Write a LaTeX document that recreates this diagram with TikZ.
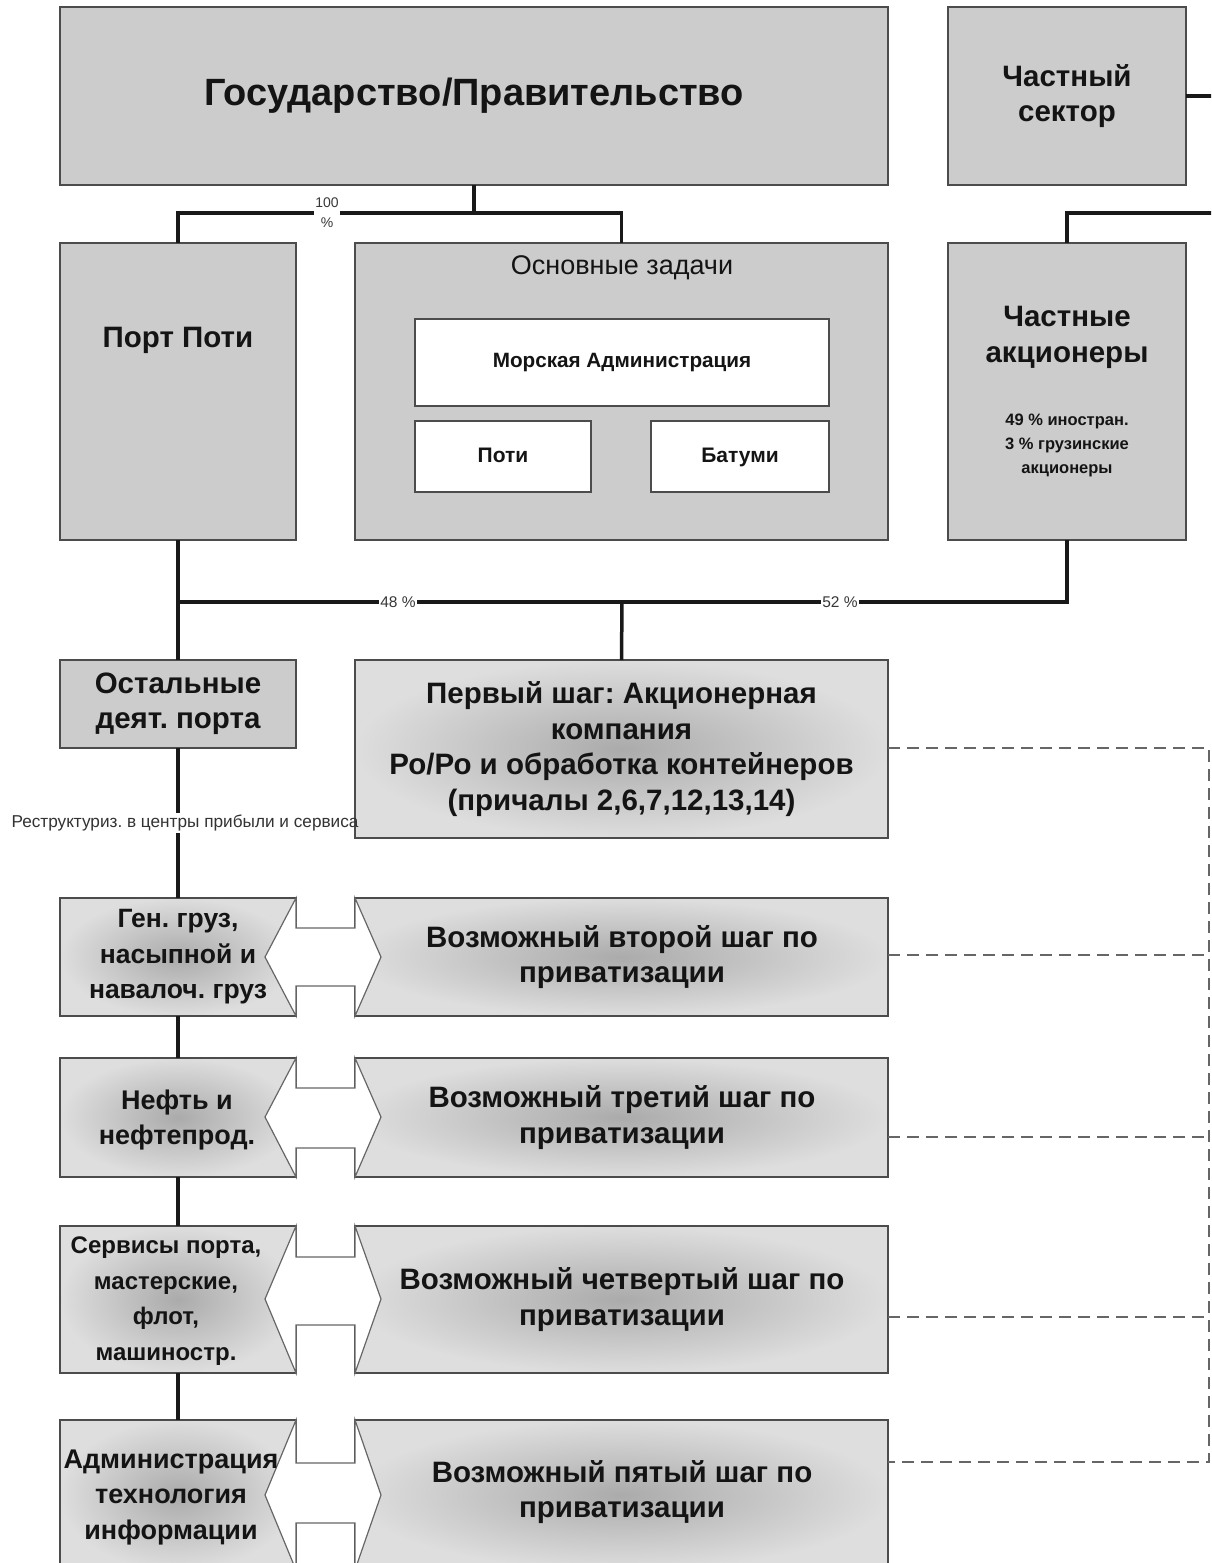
\documentclass[tikz,border=0pt]{standalone}
\usepackage{fontspec}
\setmainfont{Liberation Sans}
\usetikzlibrary{calc}
\frenchspacing
\newcommand\dblarw[5]{\draw[dbl] (296,#1) -- (265,#5) -- (296,#2) -- (296,#4) -- (355,#4) -- (355,#2) -- (381,#5) -- (355,#1) -- (355,#3) -- (296,#3) -- cycle;}
\begin{document}
\frenchspacing
\begin{tikzpicture}[x=1pt,y=-1pt,
 box/.style={draw=black!70, line width=1.3pt, fill=black!20, inner sep=0pt, outer sep=0pt},
 sbox/.style={box, shading=radial, inner color=black!33, outer color=black!13},
 wbox/.style={draw=black!70, line width=1.3pt, fill=white, inner sep=0pt, outer sep=0pt, font=\bfseries\fontsize{20.7}{24}\selectfont, text=black!92},
 big/.style={font=\bfseries\fontsize{29.5}{35.5}\selectfont, align=center, text=black!92, inner sep=0pt},
 mid/.style={font=\bfseries\fontsize{27}{35.5}\selectfont, align=center, text=black!92, inner sep=0pt},
 conn/.style={line width=3.5pt, black!90},
 dconn/.style={line width=1.3pt, black!60, dash pattern=on 12pt off 7pt},
 lab/.style={fill=white, inner sep=1.5pt, font=\fontsize{15.5}{20}\selectfont, text=black!78, align=center},
 dbl/.style={fill=white, draw=black!60, line width=1.2pt, line join=miter}
]
\useasboundingbox (0,0) rectangle (1211,1563);
\clip (0,0) rectangle (1211,1563);
\fill[white] (0,0) rectangle (1211,1563);

% top row
\node[box, minimum width=828pt, minimum height=178pt, font=\bfseries\fontsize{38}{44}\selectfont, text=black!92] (gov) at (474,96) {Государство/Правительство};
\node[box, minimum width=238pt, minimum height=178pt, big] (priv) at (1067,96) {Частный\\сектор};

% second row
\node[box, minimum width=236pt, minimum height=297pt] (poti) at (178,391.5) {};
\node[big] (potit) at (178,340) {Порт Поти};
\node[box, minimum width=533pt, minimum height=297pt] (osn) at (621.5,391.5) {};
\node[font=\fontsize{27}{30}\selectfont, text=black!92] (osnt) at (622,268) {Основные задачи};
\node[wbox, minimum width=414pt, minimum height=87pt] (mor) at (622,362.5) {Морская Администрация};
\node[wbox, minimum width=176pt, minimum height=71pt, font=\bfseries\fontsize{21}{24}\selectfont, text height=15pt, text depth=4pt] (ptt) at (503,456.5) {Поти};
\node[wbox, minimum width=178pt, minimum height=71pt, font=\bfseries\fontsize{21}{24}\selectfont, text height=15pt, text depth=4pt] (bat) at (740,456.5) {Батуми};
\node[box, minimum width=238pt, minimum height=297pt] (sh) at (1067,391.5) {};
\node[big] (sht) at (1067,337.5) {Частные\\акционеры};
\node[font=\bfseries\fontsize{16.5}{24}\selectfont, align=center, text=black!92] (shs) at (1067,445) {49 \% иностран.\\3 \% грузинские\\акционеры};

% third row
\node[box, minimum width=236pt, minimum height=88pt, big] (ost) at (178,704) {Остальные\\деят. порта};
\node[sbox, minimum width=533pt, minimum height=178pt, big] (st1) at (621.5,749) {Первый шаг: Акционерная\\компания\\Ро/Ро и обработка контейнеров\\(причалы 2,6,7,12,13,14)};

% step rows (boxes)
\node[sbox, minimum width=236pt, minimum height=118pt] (l2) at (178,957) {};
\node[sbox, minimum width=533pt, minimum height=118pt] (r2) at (621.5,957) {};
\node[sbox, minimum width=236pt, minimum height=119pt] (l3) at (178,1117.5) {};
\node[sbox, minimum width=533pt, minimum height=119pt] (r3) at (621.5,1117.5) {};
\node[sbox, minimum width=236pt, minimum height=147pt] (l4) at (178,1299.5) {};
\node[sbox, minimum width=533pt, minimum height=147pt] (r4) at (621.5,1299.5) {};
\node[sbox, minimum width=236pt, minimum height=150pt] (l5) at (178,1495) {};
\node[sbox, minimum width=533pt, minimum height=150pt] (r5) at (621.5,1495) {};

% double arrows between the columns
\dblarw{898}{1016}{928}{986}{957}
\dblarw{1058}{1177}{1088}{1148}{1117}
\dblarw{1226}{1373}{1257}{1325}{1299}
\dblarw{1420}{1570}{1463}{1523}{1495}

% texts of step rows
\node[mid, font=\bfseries\fontsize{26.5}{35.5}\selectfont] (l2t) at (178,957) {Ген. груз,\\насыпной и\\навалоч. груз};
\node[big] (r2t) at (622,957) {Возможный второй шаг по\\приватизации};
\node[mid] (l3t) at (177,1120) {Нефть и\\нефтепрод.};
\node[big] (r3t) at (622,1117.5) {Возможный третий шаг по\\приватизации};
\node[font=\bfseries\fontsize{24}{35.5}\selectfont, align=center, text=black!92, inner sep=0pt] (l4t) at (166,1301) {Сервисы порта,\\мастерские,\\флот,\\машиностр.};
\node[big] (r4t) at (622,1299.5) {Возможный четвертый шаг по\\приватизации};
\node[mid] (l5t) at (171,1497) {Администрация\\технология\\информации};
\node[big] (r5t) at (622,1492) {Возможный пятый шаг по\\приватизации};

% connectors top
\coordinate (j0) at (474,213);
\draw[conn] (gov.south) -- (j0);
\draw[conn] (poti.north) |- (j0) -| (osn.north);
\node[lab, font=\fontsize{14}{20}\selectfont] (p100) at (327,213) {100\\\%};
\coordinate (e1) at (1212,96);
\coordinate (e2) at (1212,213);
\draw[conn] (priv.east) -- (e1);
\draw[conn] (e2) -| (sh.north);

% connectors middle
\coordinate (k) at (622,602);
\draw[conn] (poti.south) -- (ost.north);
\draw[conn] (poti.south |- k) -- (k) -| (sh.south);
\draw[conn] (k) -- (st1.north);
\node[lab] (p48) at (398,602) {48 \%};
\node[lab] (p52) at (840,602) {52 \%};

% left chain
\node[font=\fontsize{17.2}{20}\selectfont, text=black!80, inner sep=2pt] (restr) at (185,823) {Реструктуриз. в центры прибыли и сервиса};
\draw[conn] (ost.south) -- (ost.south |- restr.north);
\draw[conn] (ost.south |- restr.south) -- (l2.north);
\draw[conn] (l2.south) -- (l3.north);
\draw[conn] (l3.south) -- (l4.north);
\draw[conn] (l4.south) -- (l5.north);

% dashed links
\coordinate (d1) at (1209,748);
\coordinate (d2) at (1209,955);
\coordinate (d3) at (1209,1137);
\coordinate (d4) at (1209,1317);
\coordinate (d5) at (1209,1462);
\draw[dconn] (st1.east |- d1) -- (d1) -- (d5) -- (r5.east |- d5);
\draw[dconn] (r2.east |- d2) -- (d2);
\draw[dconn] (r3.east |- d3) -- (d3);
\draw[dconn] (r4.east |- d4) -- (d4);
\end{tikzpicture}
\end{document}
